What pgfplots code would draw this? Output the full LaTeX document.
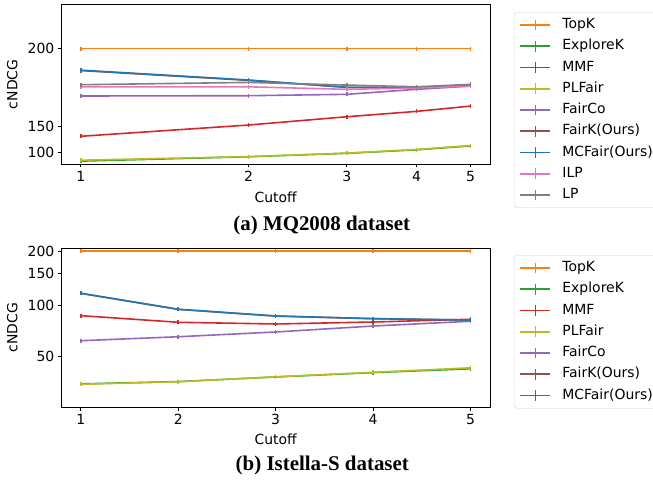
\documentclass[border=0pt]{standalone}
\usepackage{fontspec}
\setmainfont{DejaVu Sans}
\newfontfamily\capfont{Liberation Serif}
\usepackage{pgfplots}
\pgfplotsset{compat=1.18}
\definecolor{cTopK}{HTML}{FF7F0E}
\definecolor{cExploreK}{HTML}{2CA02C}
\definecolor{cMMF}{HTML}{D62728}
\definecolor{cPLFair}{HTML}{BCBD22}
\definecolor{cFairCo}{HTML}{9467BD}
\definecolor{cFairK}{HTML}{8C564B}
\definecolor{cMCFair}{HTML}{1F77B4}
\definecolor{cILP}{HTML}{E377C2}
\definecolor{cLP}{HTML}{7F7F7F}
\pgfplotsset{
  mystyle/.style={
    scale only axis, width=428.7bp, height=159.3bp,
    anchor=south west,
    axis line style={line width=0.8bp},
    tick pos=left, tick align=outside,
    major tick length=3.5bp,
    tick style={black, line width=0.8bp},
    every tick label/.append style={font=\fontsize{14}{16}\selectfont},
    /pgf/number format/assume math mode=true,
    label style={font=\fontsize{14}{16}\selectfont},
    ylabel={cNDCG}, xlabel={Cutoff},
    ylabel style={at={(axis description cs:-0.1143,0.5)}, anchor=center},
    legend cell align=left,
    legend style={font=\fontsize{14}{16}\selectfont, draw=black!18, rounded corners=2.5bp, fill=white,
      inner xsep=5bp, inner ysep=6bp, row sep=7.75bp, column sep=11bp,
      nodes={inner sep=0pt, text height=10.5bp, text depth=3bp}, anchor=north west},
    legend image code/.code={
      \draw[#1,mark=none,line width=1.9bp] (0bp,0bp) -- (30bp,0bp);
      \draw[#1,mark=none,line width=1.9bp] (15bp,-5.3bp) -- (15bp,5.3bp);
    },
    every axis plot/.append style={line width=1.6bp, mark=|, mark size=2bp, mark options={solid}},
  }
}
\begin{document}
\begin{tikzpicture}
\path[use as bounding box] (0,0) rectangle (653bp,480bp);
% (a) MQ2008
\begin{axis}[mystyle, at={(61.3bp,316bp)},
  xmode=log, xmin=0.923, xmax=5.42, xtick={1,2,3,4,5}, xticklabels={1,2,3,4,5}, xminorticks=false,
  ymin=-21.2, ymax=214.6, ytick={100,150,200}, yticklabels={100,150,200},
  y coord trafo/.code={\pgfmathparse{exp(0.0219722*#1)}},
  y coord inv trafo/.code={\pgfmathparse{ln(#1)/0.0219722}},
  xlabel style={at={(axis description cs:0.5,-0.207)}, anchor=center},
  legend style={at={(axis description cs:1.0567,0.954)}}]
\addplot[cTopK] coordinates {(1,200) (2,200) (3,200) (4,200) (5,200)};
\addplot[cExploreK] coordinates {(1,44) (2,79) (3,95) (4,107) (5,117.5)};
\addplot[cMMF] coordinates {(1,136.2) (2,151.3) (3,159.9) (4,164.7) (5,169.0)};
\addplot[cPLFair] coordinates {(1,54) (2,80) (3,96) (4,108) (5,118.5)};
\addplot[cFairCo] coordinates {(1,176.2) (2,176.4) (3,177.3) (4,180.4) (5,182.3)};
\addplot[cFairK] coordinates {(1,190.5) (2,185.5) (3,181.6) (4,181.3) (5,182.6)};
\addplot[cMCFair] coordinates {(1,190.7) (2,185.7) (3,181.6) (4,181.4) (5,182.7)};
\addplot[cILP] coordinates {(1,181.9) (2,181.9) (3,180.4) (4,181.2) (5,182.3)};
\addplot[cLP] coordinates {(1,183.1) (2,184.4) (3,182.9) (4,181.9) (5,183.3)};
\legend{TopK,ExploreK,MMF,PLFair,FairCo,FairK(Ours),MCFair(Ours),ILP,LP}
\end{axis}
% (b) Istella-S
\begin{axis}[mystyle, at={(61.3bp,72.7bp)},
  xmin=0.8, xmax=5.2, xtick={1,2,3,4,5}, xticklabels={1,2,3,4,5},
  ymin=22.7, ymax=207.6, ytick={50,100,150,200}, yticklabels={50,100,150,200},
  y coord trafo/.code={\pgfmathparse{ln(#1+10)}},
  y coord inv trafo/.code={\pgfmathparse{exp(#1)-10}},
  xlabel style={at={(axis description cs:0.5,-0.201)}, anchor=center},
  legend style={at={(axis description cs:1.0567,0.956)}}]
\addplot[cTopK] coordinates {(1,200) (2,200) (3,200) (4,200) (5,200)};
\addplot[cExploreK] coordinates {(1,33.2) (2,34.4) (3,36.9) (4,39.4) (5,41.7)};
\addplot[cMMF] coordinates {(1,87.3) (2,79.9) (3,78.1) (4,80.2) (5,83.2)};
\addplot[cPLFair] coordinates {(1,33.0) (2,34.3) (3,37.0) (4,39.6) (5,42.3)};
\addplot[cFairCo] coordinates {(1,62.2) (2,65.7) (3,70.1) (4,76.0) (5,81.0)};
\addplot[cFairK] coordinates {(1,116.8) (2,94.8) (3,86.8) (4,83.8) (5,82.3)};
\addplot[cMCFair] coordinates {(1,117.0) (2,95.0) (3,86.9) (4,83.9) (5,82.4)};
\legend{TopK,ExploreK,MMF,PLFair,FairCo,FairK(Ours),MCFair(Ours)}
\end{axis}
\node[font=\capfont\bfseries\fontsize{21}{24}\selectfont] at (321.7bp,255bp) {(a) MQ2008 dataset};
\node[font=\capfont\bfseries\fontsize{21}{24}\selectfont] at (322.3bp,15bp) {(b) Istella-S dataset};
\end{tikzpicture}
\end{document}
